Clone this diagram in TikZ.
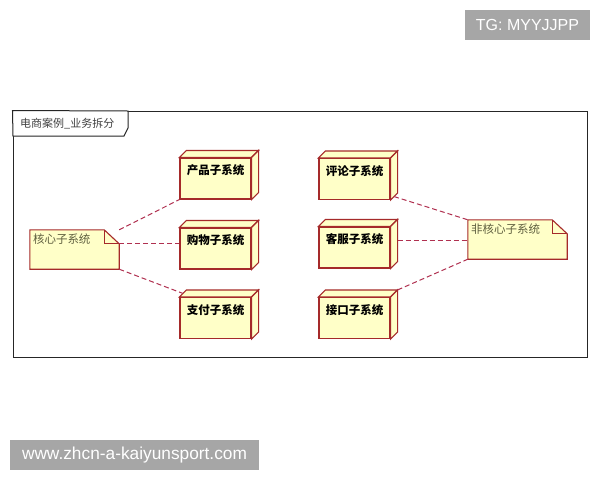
\documentclass[tikz,border=0pt]{standalone}
\usepackage{fontspec}
\setmainfont{Liberation Sans}
\newfontfamily\cjk{Noto Sans CJK SC}
\definecolor{boxfill}{HTML}{FFFFC8}
\definecolor{boxline}{HTML}{A52A2A}
\definecolor{dashline}{HTML}{B03050}
\definecolor{notetext}{HTML}{5F5F3F}
\definecolor{wmgray}{HTML}{A6A6A6}
\tikzset{
  cubefront/.style={draw=boxline, fill=boxfill, line width=1.1pt, minimum width=71pt, minimum height=41pt, inner sep=0pt},
  cubeside/.style={draw=boxline, fill=boxfill, line width=1.1pt, line join=miter},
  cubetext/.style={font=\cjk\bfseries\fontsize{11.5}{13}\selectfont, text=black, inner sep=0pt},
  notebody/.style={minimum width=89pt, minimum height=39pt, inner sep=0pt},
  noteline/.style={draw=boxline, fill=boxfill, line width=1.1pt},
  notetxt/.style={font=\cjk\fontsize{11.5}{13}\selectfont, text=notetext, inner sep=0pt, anchor=north west},
  link/.style={draw=dashline, line width=1pt, dash pattern=on 5pt off 3pt},
  wmbox/.style={fill=wmgray, text=white, inner sep=0pt},
}
\newcommand\subsys[3]{%
  \node[cubefront] (#1) at (#2) {};
  \draw[cubeside] (#1.north west) -- ++(7,-7) -- ([shift={(7,-7)}]#1.north east) -- (#1.north east) -- cycle;
  \draw[cubeside] (#1.north east) -- ([shift={(7,-7)}]#1.north east) -- ([shift={(7,-7)}]#1.south east) -- (#1.south east) -- cycle;
  \node[cubetext] (#1-t) at ([yshift=-13pt]#1.north) {#3};
}
\newcommand\notebox[4]{%
  \node[notebody, minimum width=#4] (#1) at (#2) {};
  \draw[noteline] (#1.south west) -- (#1.north west) -- ([xshift=-15pt]#1.north east) -- ([yshift=-14pt]#1.north east) -- (#1.south east) -- cycle;
  \draw[boxline, line width=1.1pt] ([xshift=-15pt]#1.north east) |- ([yshift=-14pt]#1.north east);
  \node[notetxt] (#1-t) at ([shift={(3,4)}]#1.north west) {#3};
}
\begin{document}
\begin{tikzpicture}[x=1pt,y=-1pt]
\useasboundingbox[fill=white] (0,0) rectangle (600,480);
% frame
\node[draw=black!85, line width=1pt, minimum width=574pt, minimum height=246pt, inner sep=0pt] (frame) at (300,234) {};
\draw[black!85, line width=1pt, fill=white] (frame.north west) -- (128,111) -- (128,128) -- (124,136) -- (13,136) -- cycle;
\node[font=\cjk\fontsize{11}{13}\selectfont, text=black!75, anchor=west, inner sep=0pt] (title) at (20,124) {电商案例\_业务拆分};
% notes
\notebox{core}{74.5,249.5}{核心子系统}{89pt}
\notebox{noncore}{517.5,239.5}{非核心子系统}{99pt}
% subsystems
\subsys{prod}{215.5,178.5}{产品子系统}
\subsys{shop}{215.5,248.5}{购物子系统}
\subsys{pay}{215.5,318}{支付子系统}
\subsys{review}{354.5,179}{评论子系统}
\subsys{service}{354.5,247.5}{客服子系统}
\subsys{iface}{354.5,318}{接口子系统}
% links
\coordinate (corefold) at ([yshift=-14pt]core.north east);
\draw[link] (core.north east) -- (prod.south west);
\draw[link] (corefold) -- (corefold -| shop.west);
\draw[link] (core.south east) -- ([shift={(3.5,-3.5)}]pay.north west);
\coordinate (revside) at ([shift={(3.5,-3.5)}]review.south east);
\coordinate (servside) at ([shift={(7,-7)}]service.east);
\coordinate (ifaceside) at ([shift={(7,-7)}]iface.north east);
\draw[link] (revside) -- (noncore.north west);
\draw[link] (servside) -- (servside -| noncore.west);
\draw[link] (ifaceside) -- (noncore.south west);
% watermarks
\node[wmbox, minimum width=125pt, minimum height=30pt, font=\fontsize{16}{18}\selectfont] (wm1) at (527.5,25) {TG: MYYJJPP};
\node[wmbox, minimum width=249pt, minimum height=30pt, font=\fontsize{17.3}{19}\selectfont] (wm2) at (134.5,455) {www.zhcn-a-kaiyunsport.com};
\end{tikzpicture}
\end{document}
